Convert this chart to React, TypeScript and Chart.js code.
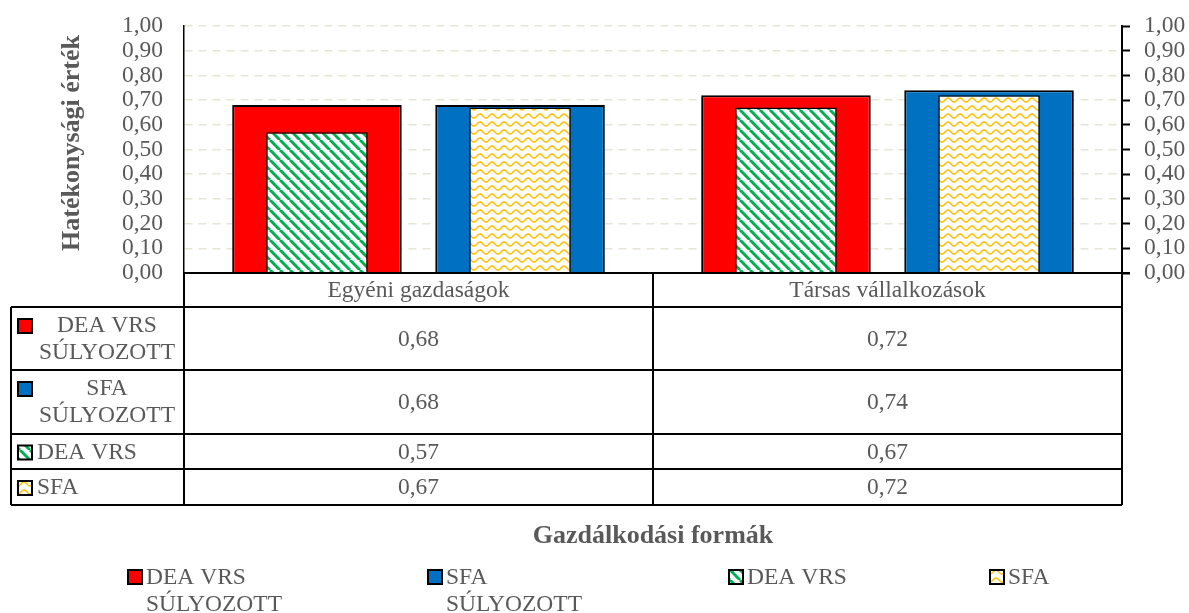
import React, { useEffect, useRef } from "react";
import { Chart, registerables } from "chart.js";

Chart.register(...registerables);

const categories = ["Egyéni gazdaságok", "Társas vállalkozások"];
const seriesLabels = ["DEA VRS SÚLYOZOTT", "SFA SÚLYOZOTT", "DEA VRS", "SFA"];
const deaVrsWeighted = [0.68, 0.72];
const sfaWeighted = [0.68, 0.74];
const deaVrs = [0.57, 0.67];
const sfa = [0.67, 0.72];
const xTitle = "Gazdálkodási formák";
const yTitle = "Hatékonysági érték";

const FONT = "'Liberation Serif', 'Times New Roman', serif";
const GRAY = "#595959";

function fmt(v: number) {
  return v.toFixed(2).replace(".", ",");
}

function wrapLabel(s: string): string[] {
  const idx = s.lastIndexOf(" SÚLYOZOTT");
  if (idx > 0) return [s.slice(0, idx), s.slice(idx + 1)];
  return [s];
}

function makeStripes(): CanvasPattern | string {
  const c = document.createElement("canvas");
  c.width = 10;
  c.height = 10;
  const g = c.getContext("2d");
  if (!g) return "#00B050";
  g.fillStyle = "#ffffff";
  g.fillRect(0, 0, 10, 10);
  g.strokeStyle = "#00B050";
  g.lineWidth = 3;
  for (const x0 of [-10, 0, 10]) {
    g.beginPath();
    g.moveTo(x0, 0);
    g.lineTo(x0 + 10, 10);
    g.stroke();
  }
  return g.createPattern(c, "repeat") || "#00B050";
}

function makeWaves(): CanvasPattern | string {
  const c = document.createElement("canvas");
  c.width = 12;
  c.height = 8;
  const g = c.getContext("2d");
  if (!g) return "#FFC000";
  g.fillStyle = "#ffffff";
  g.fillRect(0, 0, 12, 8);
  g.strokeStyle = "#FFC000";
  g.lineWidth = 1.6;
  g.beginPath();
  for (let i = 0; i <= 24; i++) {
    const x = i * 0.5;
    const y = 4 - 2 * Math.cos((2 * Math.PI * x) / 12);
    if (i === 0) g.moveTo(x, y);
    else g.lineTo(x, y);
  }
  g.stroke();
  return g.createPattern(c, "repeat") || "#FFC000";
}

export default function App() {
  const ref = useRef<HTMLCanvasElement | null>(null);

  useEffect(() => {
    const canvas = ref.current;
    if (!canvas) return;
    const stripes = makeStripes();
    const waves = makeWaves();
    const fills: (string | CanvasPattern)[] = ["#FF0000", "#0070C0", stripes, waves];
    const seriesData = [deaVrsWeighted, sfaWeighted, deaVrs, sfa];

    const tablePlugin = {
      id: "tablePlugin",
      afterDraw(chart: any) {
        const ctx: CanvasRenderingContext2D = chart.ctx;
        const area = chart.chartArea;
        const L = area.left;
        const R = area.right;
        const M = (L + R) / 2;
        const xs = chart.scales.x;
        const tableLeft = 11;
        const rowLines = [307, 370, 434, 469, 505];
        const top = area.bottom;

        ctx.save();
        ctx.strokeStyle = "#000";
        ctx.lineWidth = 2;
        ctx.beginPath();
        ctx.moveTo(L, top);
        ctx.lineTo(R + 8, top);
        for (const y of rowLines) {
          ctx.moveTo(tableLeft, y);
          ctx.lineTo(R, y);
        }
        ctx.moveTo(tableLeft, rowLines[0]);
        ctx.lineTo(tableLeft, rowLines[rowLines.length - 1]);
        for (const x of [L, M, R]) {
          ctx.moveTo(x, top);
          ctx.lineTo(x, rowLines[rowLines.length - 1]);
        }
        ctx.stroke();

        // y axis title
        ctx.save();
        ctx.translate(72, 143);
        ctx.rotate(-Math.PI / 2);
        ctx.font = `bold 26px ${FONT}`;
        ctx.fillStyle = GRAY;
        ctx.textAlign = "center";
        ctx.textBaseline = "middle";
        ctx.fillText(yTitle, 0, 0);
        ctx.restore();

        ctx.fillStyle = GRAY;
        ctx.font = `23.5px ${FONT}`;
        ctx.textBaseline = "middle";
        ctx.textAlign = "center";
        // header row
        categories.forEach((c, i) => {
          ctx.fillText(c, xs.getPixelForValue(i), (top + rowLines[0]) / 2 + 1);
        });
        // data rows
        for (let r = 0; r < 4; r++) {
          const y0 = rowLines[r];
          const y1 = rowLines[r + 1];
          const cy = (y0 + y1) / 2 + 1;
          ctx.fillStyle = GRAY;
          ctx.textAlign = "center";
          seriesData[r].forEach((v, i) => {
            ctx.fillText(fmt(v), xs.getPixelForValue(i), cy);
          });
          const lines = wrapLabel(seriesLabels[r]);
          const ky = lines.length > 1 ? y0 + 12 : cy - 7;
          ctx.fillStyle = fills[r] as any;
          ctx.fillRect(18, ky, 14, 14);
          ctx.lineWidth = 2;
          ctx.strokeStyle = "#000";
          ctx.strokeRect(18, ky, 14, 14);
          ctx.fillStyle = GRAY;
          if (lines.length > 1) {
            ctx.textAlign = "center";
            ctx.fillText(lines[0], 107, y0 + 19);
            ctx.fillText(lines[1], 107, y0 + 46);
          } else {
            ctx.textAlign = "left";
            ctx.fillText(lines[0], 37, cy);
          }
        }

        // x axis title
        ctx.font = `bold 26px ${FONT}`;
        ctx.textAlign = "center";
        ctx.fillStyle = GRAY;
        ctx.fillText(xTitle, M, 536);

        // legend
        const legendX = [128, 428, 729, 990];
        ctx.font = `23.5px ${FONT}`;
        ctx.textAlign = "left";
        for (let s = 0; s < 4; s++) {
          const x = legendX[s];
          ctx.fillStyle = fills[s] as any;
          ctx.fillRect(x, 570, 14, 14);
          ctx.lineWidth = 2;
          ctx.strokeStyle = "#000";
          ctx.strokeRect(x, 570, 14, 14);
          ctx.fillStyle = GRAY;
          const lines = wrapLabel(seriesLabels[s]);
          lines.forEach((ln, k) => {
            ctx.fillText(ln, x + 18, 578 + k * 27);
          });
        }
        ctx.restore();
      },
    };

    const chart = new Chart(canvas, {
      type: "bar",
      data: {
        labels: categories,
        datasets: [
          {
            label: seriesLabels[0],
            data: deaVrsWeighted,
            backgroundColor: "#FF0000",
            borderColor: "#000",
            borderWidth: 2,
            stack: "a",
            categoryPercentage: 0.866,
            barPercentage: 0.835,
            order: 2,
          },
          {
            label: seriesLabels[1],
            data: sfaWeighted,
            backgroundColor: "#0070C0",
            borderColor: "#000",
            borderWidth: 2,
            stack: "b",
            categoryPercentage: 0.866,
            barPercentage: 0.835,
            order: 2,
          },
          {
            label: seriesLabels[2],
            data: deaVrs,
            backgroundColor: stripes as any,
            borderColor: "#000",
            borderWidth: 1.5,
            stack: "a",
            categoryPercentage: 0.866,
            barPercentage: 0.5,
            order: 1,
          },
          {
            label: seriesLabels[3],
            data: sfa,
            backgroundColor: waves as any,
            borderColor: "#000",
            borderWidth: 1.5,
            stack: "b",
            categoryPercentage: 0.866,
            barPercentage: 0.5,
            order: 1,
          },
        ],
      },
      options: {
        animation: false,
        responsive: false,
        devicePixelRatio: 1,
        events: [],
        layout: { padding: { top: 26, bottom: 340, left: 0, right: 0 } },
        plugins: {
          legend: { display: false },
          tooltip: { enabled: false },
          title: { display: false },
        },
        scales: {
          x: { type: "category", display: false, offset: true, stacked: true },
          y: {
            position: "left",
            min: 0,
            max: 1,
            stacked: false,
            ticks: {
              stepSize: 0.1,
              autoSkip: false,
              color: GRAY,
              font: { family: FONT, size: 23.5 },
              padding: 21,
              callback: (v: any) => fmt(Number(v)),
            },
            grid: { color: "#e8e4d8", lineWidth: 1.5, drawTicks: false },
            border: { color: "#000", width: 1.5, dash: [8, 6] },
            afterFit: (s: any) => {
              s.width = 184;
              s.paddingTop = 0;
              s.paddingBottom = 0;
            },
          },
          y1: {
            position: "right",
            min: 0,
            max: 1,
            stacked: false,
            ticks: {
              stepSize: 0.1,
              autoSkip: false,
              color: GRAY,
              font: { family: FONT, size: 23.5 },
              padding: 14,
              callback: (v: any) => fmt(Number(v)),
            },
            grid: {
              drawOnChartArea: false,
              drawTicks: true,
              tickLength: 8,
              tickColor: "#000",
              tickWidth: 2,
            },
            border: { color: "#000", width: 2 },
            afterFit: (s: any) => {
              s.width = 67;
              s.paddingTop = 0;
              s.paddingBottom = 0;
            },
          },
        },
      } as any,
      plugins: [tablePlugin],
    });
    return () => chart.destroy();
  }, []);

  return (
    <div style={{ position: "absolute", left: 0, top: 0, width: 1189, height: 613, background: "#fff" }}>
      <canvas ref={ref} width={1189} height={613} style={{ width: 1189, height: 613, display: "block" }} />
    </div>
  );
}
